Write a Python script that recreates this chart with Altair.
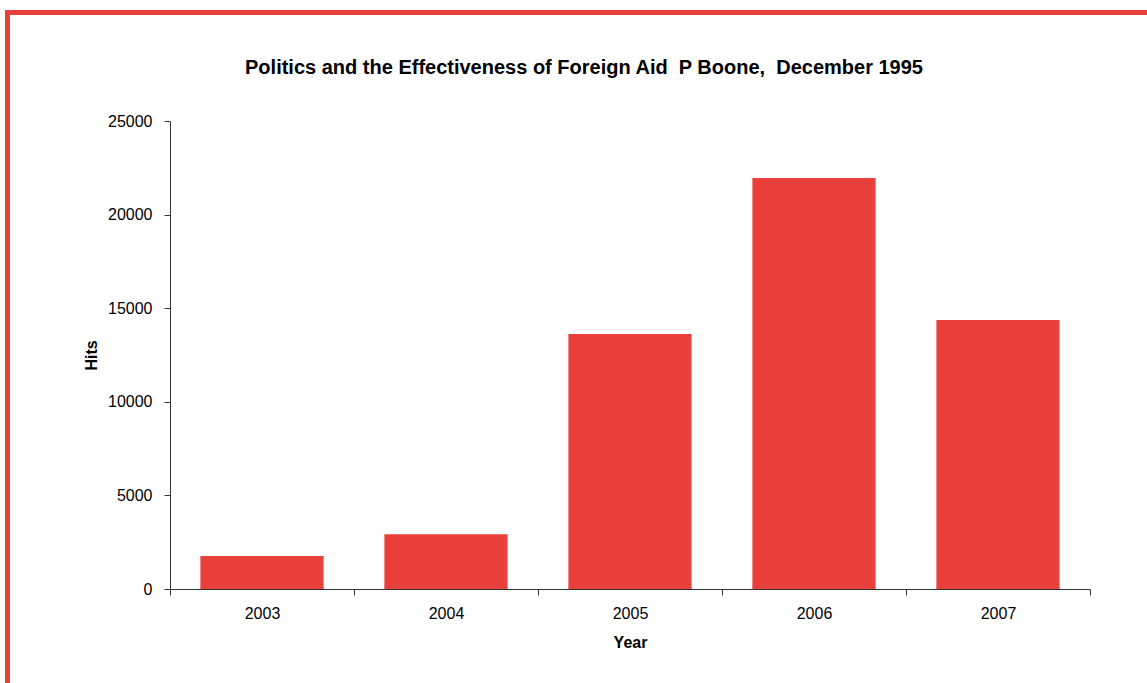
import altair as alt
import pandas as pd

years = ["2003", "2004", "2005", "2006", "2007"]
hits = [1760, 2930, 13620, 21950, 14370]

title_text = "Politics and the Effectiveness of Foreign Aid\u00a0\u00a0P Boone,\u00a0\u00a0December 1995"
bar_color = "#E8403A"
frame_color = "#E8403A"

df = pd.DataFrame({"Year": years, "Hits": hits})

W, H = 920, 468
LEFT, TOP = 170, 121

bars = alt.Chart(df).mark_bar(color=bar_color, width={"band": 0.67}).encode(
    x=alt.X("Year:N", title="Year",
            scale=alt.Scale(paddingInner=0, paddingOuter=0),
            axis=alt.Axis(labelAngle=0, tickBand="extent", labelPadding=10,
                          titlePadding=13)),
    y=alt.Y("Hits:Q", title="Hits",
            scale=alt.Scale(domain=[0, 25000]),
            axis=alt.Axis(values=[0, 5000, 10000, 15000, 20000, 25000], format="d",
                          labelPadding=12, titlePadding=8)),
)

frame_df = pd.DataFrame({"k": [0]})
title_mark = alt.Chart(frame_df).mark_text(
    text=title_text, font="Liberation Sans", fontSize=20, fontWeight="bold",
    color="black", align="center", baseline="alphabetic"
).encode(x=alt.value(584 - LEFT), y=alt.value(74 - TOP))

top_line = alt.Chart(frame_df).mark_rule(color=frame_color, strokeWidth=5, clip=False).encode(
    x=alt.value(5 - LEFT), x2=alt.value(1147 - LEFT + 5), y=alt.value(12.5 - TOP)
)
left_line = alt.Chart(frame_df).mark_rule(color=frame_color, strokeWidth=5, clip=False).encode(
    x=alt.value(7.5 - LEFT), y=alt.value(10 - TOP), y2=alt.value(683 - TOP + 5)
)

chart = alt.layer(bars, top_line, left_line, title_mark).properties(
    width=W, height=H,
    padding={"left": LEFT, "top": TOP, "right": 1147 - LEFT - W, "bottom": 683 - TOP - H},
    autosize=alt.AutoSizeParams(type="none"),
).configure(background="white").configure_view(stroke=None).configure_axis(
    labelFont="Liberation Sans", titleFont="Liberation Sans",
    labelFontSize=16, titleFontSize=16, titleFontWeight="bold",
    labelColor="black", titleColor="black",
    domainColor="#333333", tickColor="#333333", tickSize=6,
    grid=False,
)

chart.save("out.html", embed_options={"renderer": "svg", "actions": False})
